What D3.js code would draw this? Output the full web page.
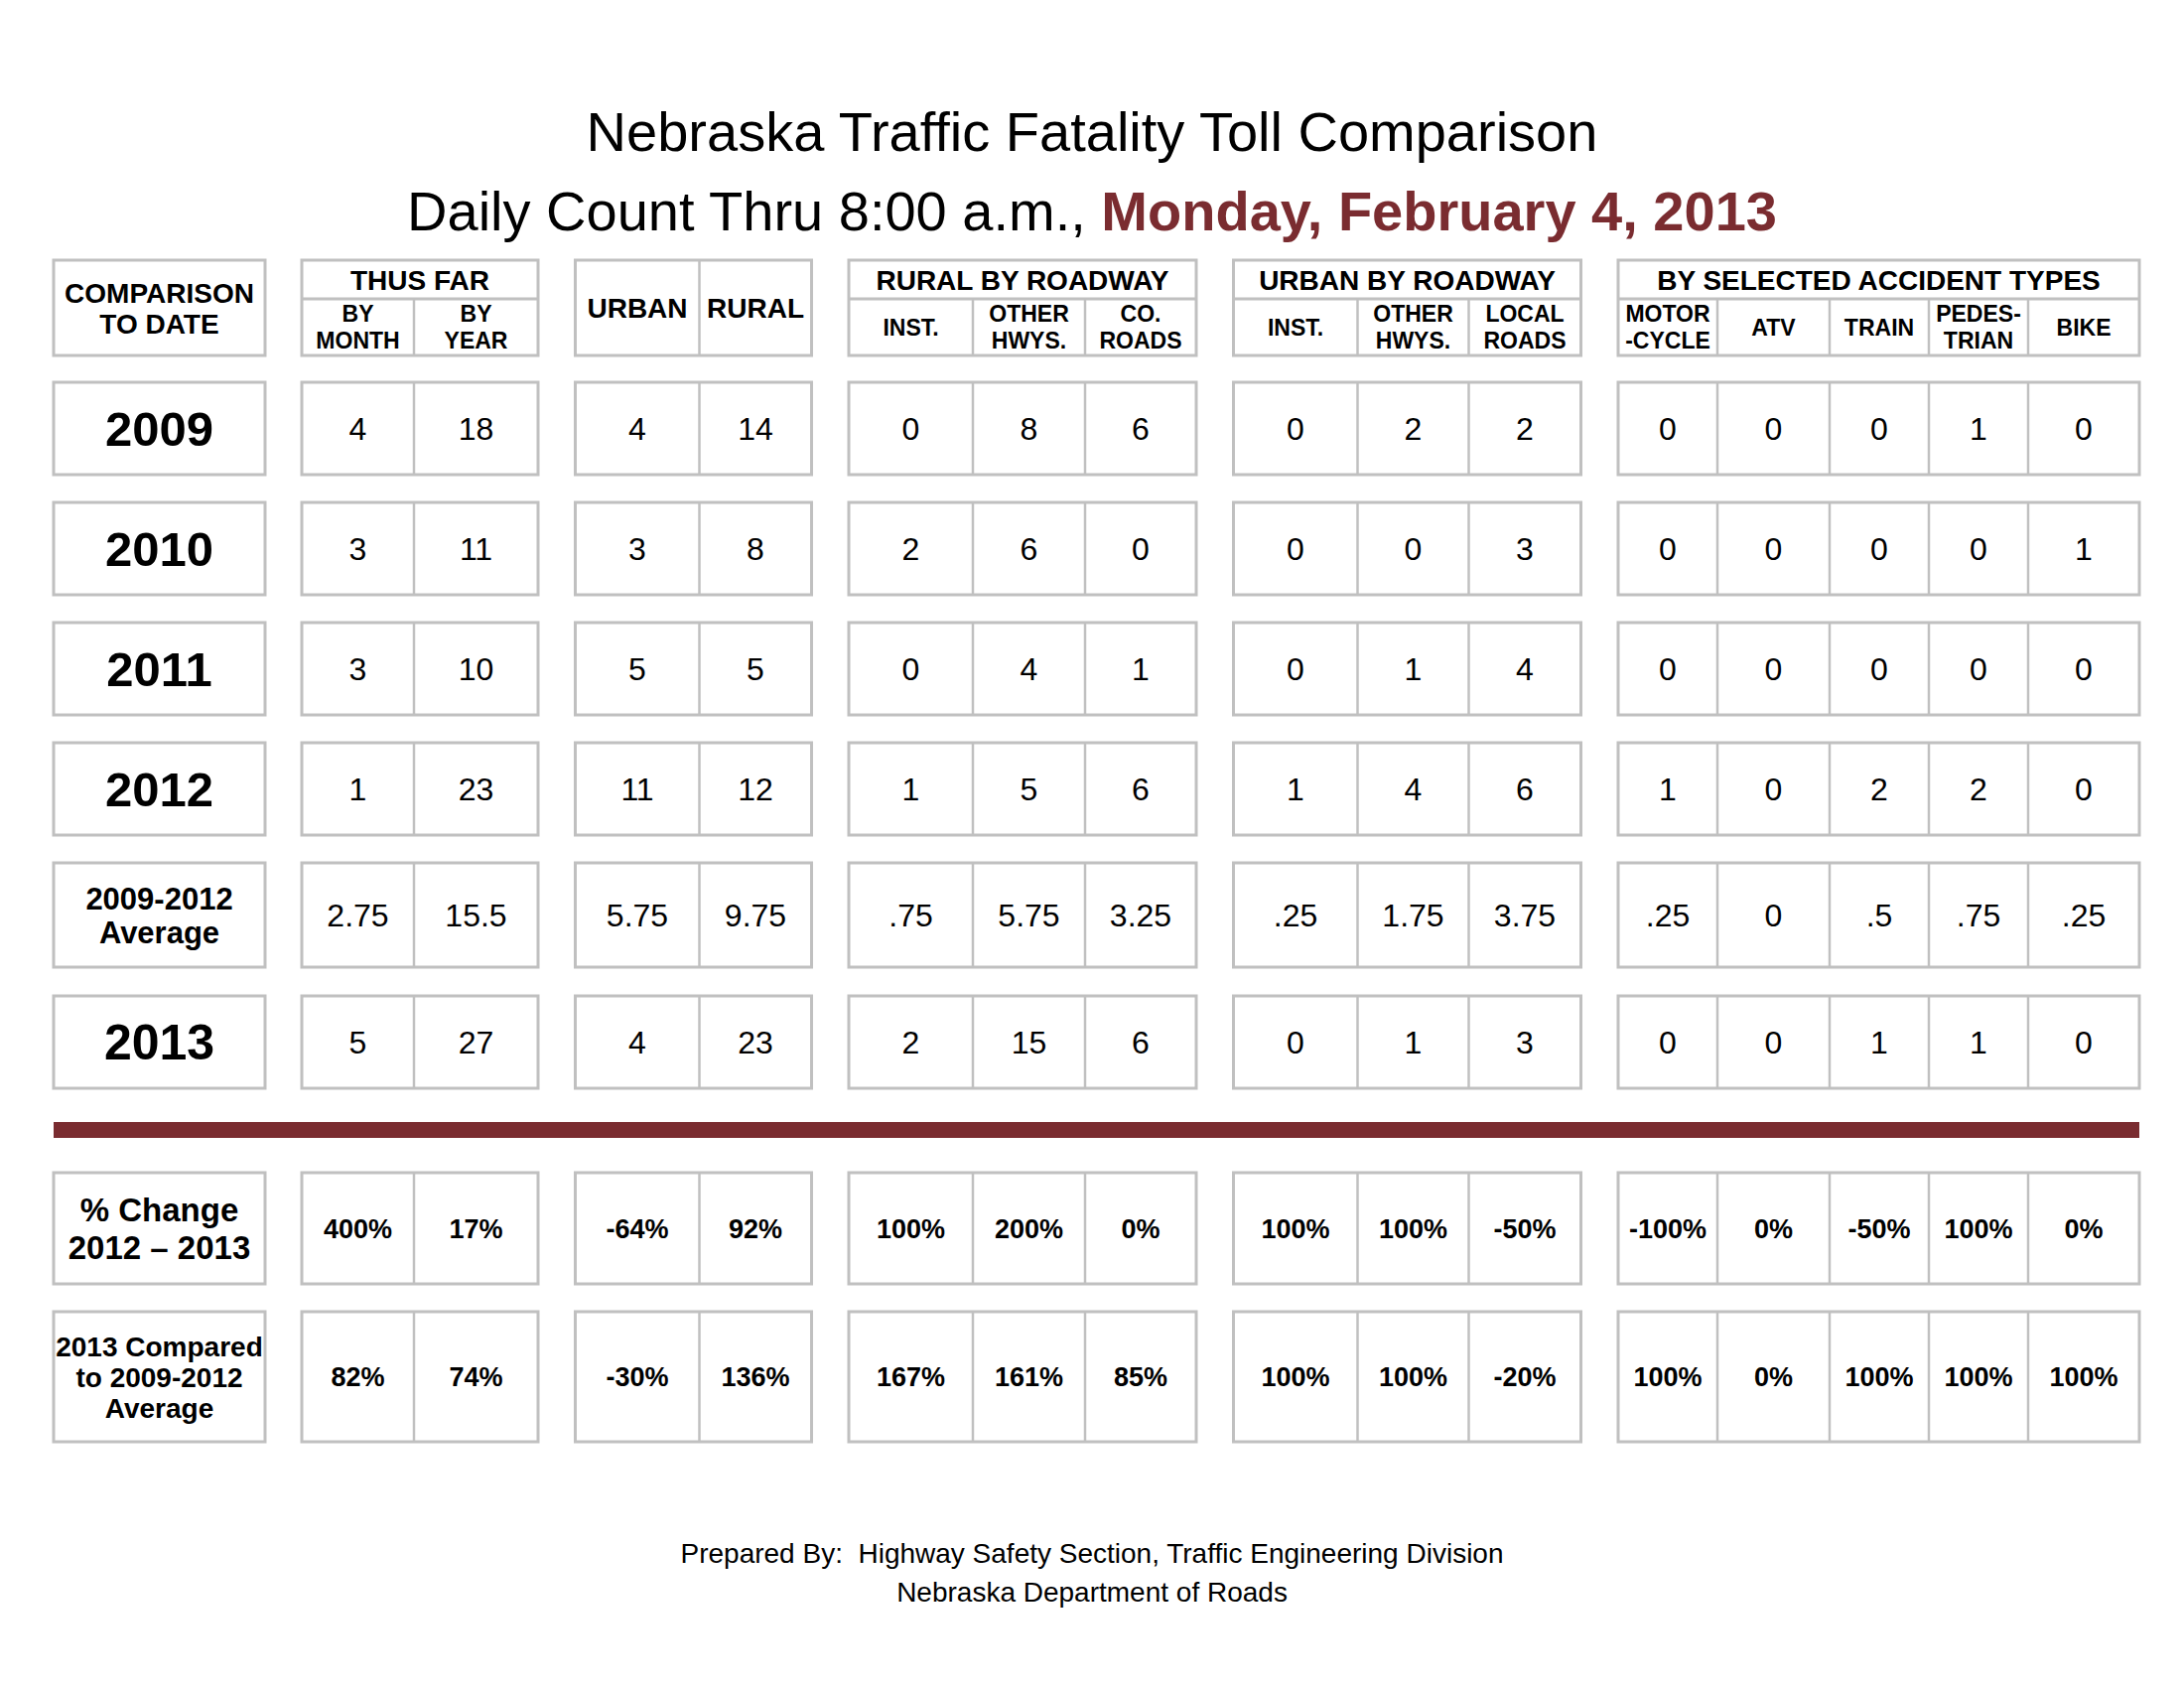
<!DOCTYPE html>
<html>
<head>
<meta charset="utf-8">
<script src="https://cdn.jsdelivr.net/npm/d3@7"></script>
<style>
  body { margin: 0; background: #fff; }
  text { font-family: "Liberation Sans", Arial, sans-serif; fill: #000; }
</style>
</head>
<body>
<div id="chart"></div>
<script>

var columns = ["byMonth", "byYear", "urban", "rural",
               "rInst", "rOther", "rCo", "uInst", "uOther", "uLocal",
               "motorcycle", "atv", "train", "pedestrian", "bike"];
var subHeaders = [["BY", "MONTH"], ["BY", "YEAR"], ["URBAN"], ["RURAL"],
                  ["INST."], ["OTHER", "HWYS."], ["CO.", "ROADS"],
                  ["INST."], ["OTHER", "HWYS."], ["LOCAL", "ROADS"],
                  ["MOTOR", "-CYCLE"], ["ATV"], ["TRAIN"], ["PEDES-", "TRIAN"], ["BIKE"]];
var groupNames = ["THUS FAR", "", "RURAL BY ROADWAY", "URBAN BY ROADWAY", "BY SELECTED ACCIDENT TYPES"];
var groupSizes = [2, 2, 3, 3, 5];

var rowKeys = ["2009", "2010", "2011", "2012", "avg", "2013", "chg", "cmp"];
var rowLabels = [["2009"], ["2010"], ["2011"], ["2012"], ["2009-2012", "Average"], ["2013"],
                 ["% Change", "2012 \u2013 2013"], ["2013 Compared", "to 2009-2012", "Average"]];

var counts2009 = ["4", "18", "4", "14", "0", "8", "6", "0", "2", "2", "0", "0", "0", "1", "0"];
var counts2010 = ["3", "11", "3", "8", "2", "6", "0", "0", "0", "3", "0", "0", "0", "0", "1"];
var counts2011 = ["3", "10", "5", "5", "0", "4", "1", "0", "1", "4", "0", "0", "0", "0", "0"];
var counts2012 = ["1", "23", "11", "12", "1", "5", "6", "1", "4", "6", "1", "0", "2", "2", "0"];
var average0912 = ["2.75", "15.5", "5.75", "9.75", ".75", "5.75", "3.25", ".25", "1.75", "3.75", ".25", "0", ".5", ".75", ".25"];
var counts2013 = ["5", "27", "4", "23", "2", "15", "6", "0", "1", "3", "0", "0", "1", "1", "0"];
var change1213 = ["400%", "17%", "-64%", "92%", "100%", "200%", "0%", "100%", "100%", "-50%", "-100%", "0%", "-50%", "100%", "0%"];
var vsAverage = ["82%", "74%", "-30%", "136%", "167%", "161%", "85%", "100%", "100%", "-20%", "100%", "0%", "100%", "100%", "100%"];

var rowValues = [counts2009, counts2010, counts2011, counts2012, average0912, counts2013, change1213, vsAverage];

// ---- layout ----
var totwidth = 2200, totheight = 1700;
var border = "#c0c0c0", maroon = "#7a2c30";
var colWidths = [113, 125, 125, 113, 125, 113, 112, 125, 112, 113, 100, 113, 100, 100, 112];
var groupGap = 37.5, firstGroupX = 304, labelX = 54, labelW = 213;
var rowHeights = [93, 93, 93, 93, 105, 93, 112, 131];
var rowGaps = [27, 28, 28, 28, 28, 29, 85, 28]; // gap above each row
var headTop = 262, headMid = 301, headBottom = 358;

// column positions
var colX = [], groupX = [], groupW = [], x = firstGroupX, ci = 0;
groupSizes.forEach(function(n, gi) {
  groupX.push(x);
  var start = x;
  for (var k = 0; k < n; k++) { colX.push(x); x += colWidths[ci]; ci++; }
  groupW.push(x - start);
  x += groupGap;
});
var xCol = d3.scaleOrdinal().domain(columns).range(colX);
var wCol = d3.scaleOrdinal().domain(columns).range(colWidths);

var rowTops = [], y = headBottom;
rowHeights.forEach(function(h, i) { y += rowGaps[i]; rowTops.push(y); y += h; });
var yRow = d3.scaleOrdinal().domain(rowKeys).range(rowTops);
var hRow = d3.scaleOrdinal().domain(rowKeys).range(rowHeights);

var svg = d3.select("#chart").append("svg")
    .attr("width", totwidth)
    .attr("height", totheight);
svg.append("rect").attr("width", totwidth).attr("height", totheight).attr("fill", "#fff");

// stack of centered lines, baseline from cap height
function lines(g, cx, cy, arr, size, lh, weight) {
  arr.forEach(function(s, i) {
    g.append("text")
      .attr("x", cx)
      .attr("y", cy + 0.358 * size + (i - (arr.length - 1) / 2) * lh)
      .attr("text-anchor", "middle")
      .attr("font-size", size)
      .attr("font-weight", weight)
      .text(s);
  });
}

// titles
svg.append("text")
  .attr("x", totwidth / 2).attr("y", 152)
  .attr("text-anchor", "middle").attr("font-size", 56)
  .text("Nebraska Traffic Fatality Toll Comparison");
var t2 = svg.append("text")
  .attr("x", totwidth / 2).attr("y", 232)
  .attr("text-anchor", "middle").attr("font-size", 56);
t2.append("tspan").text("Daily Count Thru 8:00 a.m., ");
t2.append("tspan").attr("font-weight", "bold").style("fill", maroon).text("Monday, February 4, 2013");

// header row
var head = svg.append("g").attr("class", "header");
head.append("rect")
  .attr("x", labelX).attr("y", headTop).attr("width", labelW).attr("height", headBottom - headTop)
  .attr("fill", "none").attr("stroke", border).attr("stroke-width", 3);
lines(head, labelX + labelW / 2, (headTop + headBottom) / 2, ["COMPARISON", "TO DATE"], 28, 31, "bold");

groupNames.forEach(function(name, gi) {
  head.append("rect")
    .attr("x", groupX[gi]).attr("y", headTop).attr("width", groupW[gi]).attr("height", headBottom - headTop)
    .attr("fill", "none").attr("stroke", border).attr("stroke-width", 3);
  if (name) {
    head.append("line")
      .attr("x1", groupX[gi]).attr("x2", groupX[gi] + groupW[gi])
      .attr("y1", headMid).attr("y2", headMid)
      .attr("stroke", border).attr("stroke-width", 3);
    lines(head, groupX[gi] + groupW[gi] / 2, (headTop + headMid) / 2, [name], 28, 0, "bold");
  }
});

columns.forEach(function(c, i) {
  var gi = d3.bisectRight(d3.cumsum(groupSizes), i);
  var hasName = groupNames[gi] !== "";
  var top = hasName ? headMid : headTop;
  var first = colX[i] === groupX[gi];
  if (!first) {
    head.append("line")
      .attr("x1", xCol(c)).attr("x2", xCol(c))
      .attr("y1", top).attr("y2", headBottom)
      .attr("stroke", border).attr("stroke-width", 2.5);
  }
  var sz = hasName ? 23 : 28;
  lines(head, xCol(c) + wCol(c) / 2, (top + headBottom) / 2, subHeaders[i], sz, 27, "bold");
});

// body rows
var labelSize = [49, 49, 49, 49, 31, 50, 33, 28];
var labelLh = [0, 0, 0, 0, 34, 0, 38, 31];
var valueSize = [32, 32, 32, 32, 32, 32, 27, 27];
var valueWeight = ["normal", "normal", "normal", "normal", "normal", "normal", "bold", "bold"];

rowKeys.forEach(function(r, ri) {
  var g = svg.append("g").attr("class", "row");
  var top = yRow(r), h = hRow(r);
  g.append("rect")
    .attr("x", labelX).attr("y", top).attr("width", labelW).attr("height", h)
    .attr("fill", "none").attr("stroke", border).attr("stroke-width", 3);
  lines(g, labelX + labelW / 2, top + h / 2, rowLabels[ri], labelSize[ri], labelLh[ri], "bold");

  groupSizes.forEach(function(n, gi) {
    g.append("rect")
      .attr("x", groupX[gi]).attr("y", top).attr("width", groupW[gi]).attr("height", h)
      .attr("fill", "none").attr("stroke", border).attr("stroke-width", 3);
  });

  g.selectAll("line.div")
    .data(columns.filter(function(c) { return groupX.indexOf(xCol(c)) < 0; }))
    .enter().append("line")
      .attr("class", "div")
      .attr("x1", function(c) { return xCol(c); })
      .attr("x2", function(c) { return xCol(c); })
      .attr("y1", top).attr("y2", top + h)
      .attr("stroke", border).attr("stroke-width", 2.5);

  g.selectAll("text.val")
    .data(rowValues[ri])
    .enter().append("text")
      .attr("class", "val")
      .attr("x", function(d, i) { return xCol(columns[i]) + wCol(columns[i]) / 2; })
      .attr("y", top + h / 2 + 0.358 * valueSize[ri])
      .attr("text-anchor", "middle")
      .attr("font-size", valueSize[ri])
      .attr("font-weight", valueWeight[ri])
      .text(function(d) { return d; });
});

// maroon divider between counts and comparisons
svg.append("rect")
  .attr("x", labelX).attr("y", 1130)
  .attr("width", groupX[4] + groupW[4] - labelX).attr("height", 16)
  .attr("fill", maroon);

// footer
svg.append("text")
  .attr("x", totwidth / 2).attr("y", 1574)
  .attr("text-anchor", "middle").attr("font-size", 28)
  .attr("xml:space", "preserve")
  .text("Prepared By:  Highway Safety Section, Traffic Engineering Division");
svg.append("text")
  .attr("x", totwidth / 2).attr("y", 1613)
  .attr("text-anchor", "middle").attr("font-size", 28)
  .text("Nebraska Department of Roads");
</script>
</body>
</html>
